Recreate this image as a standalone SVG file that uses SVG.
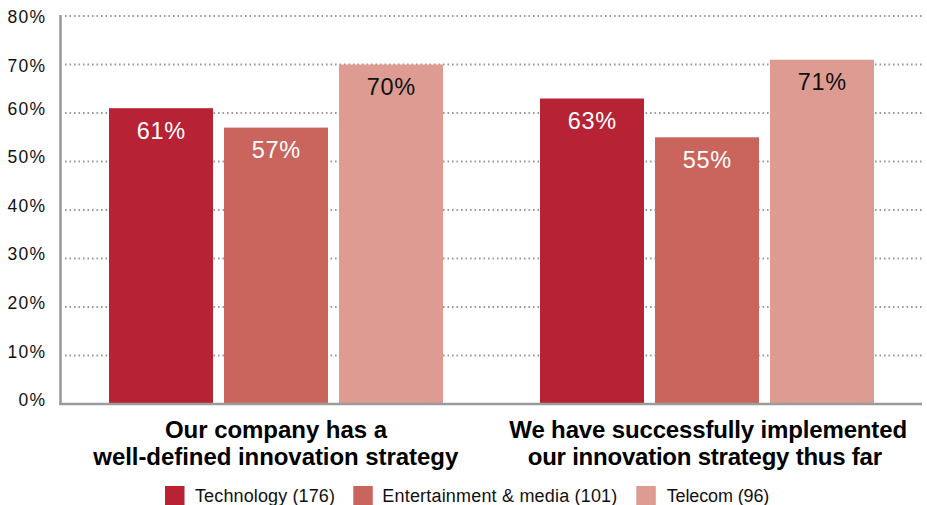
<svg xmlns="http://www.w3.org/2000/svg" width="927" height="505" viewBox="0 0 927 505">
<style>
.grid{stroke:#9a9a9a;stroke-width:2;stroke-dasharray:1.6 2.9;fill:none}
.axis{stroke:#9b9b9b;stroke-width:2.6;fill:none}
.ylab{font-family:"Liberation Sans",Arial,sans-serif;font-size:17.5px;fill:#111;text-anchor:end}
.val{font-family:"Liberation Sans",Arial,sans-serif;font-size:23.5px;text-anchor:middle}
.cat{font-family:"Liberation Sans",Arial,sans-serif;font-size:24px;font-weight:bold;fill:#000;text-anchor:middle}
.leg{font-family:"Liberation Sans",Arial,sans-serif;font-size:18px;fill:#111}
.tech{fill:#B72234}.ent{fill:#C9655D}.tel{fill:#DD9B91}
.w{fill:#fff}.k{fill:#111}
</style>
<rect width="927" height="505" fill="#fff"/>
<g id="gridlines">
<line class="grid" x1="65" y1="16" x2="922" y2="16"/>
<line class="grid" x1="65" y1="64.5" x2="922" y2="64.5"/>
<line class="grid" x1="65" y1="113" x2="922" y2="113"/>
<line class="grid" x1="65" y1="161.5" x2="922" y2="161.5"/>
<line class="grid" x1="65" y1="210" x2="922" y2="210"/>
<line class="grid" x1="65" y1="258.5" x2="922" y2="258.5"/>
<line class="grid" x1="65" y1="307" x2="922" y2="307"/>
<line class="grid" x1="65" y1="355.5" x2="922" y2="355.5"/>
</g>
<g id="y-labels">
<text class="ylab" x="45" y="23" textLength="37.5">80%</text>
<text class="ylab" x="45" y="72" textLength="37.5">70%</text>
<text class="ylab" x="45" y="114.5" textLength="37.5">60%</text>
<text class="ylab" x="45" y="163" textLength="37.5">50%</text>
<text class="ylab" x="45" y="211.5" textLength="37.5">40%</text>
<text class="ylab" x="45" y="260" textLength="37.5">30%</text>
<text class="ylab" x="45" y="309" textLength="37.5">20%</text>
<text class="ylab" x="45" y="357.5" textLength="37.5">10%</text>
<text class="ylab" x="45" y="406" textLength="26.5">0%</text>
</g>
<g id="group1">
<rect class="tech" x="109" y="108.2" width="104" height="295.8"/>
<rect class="ent" x="224" y="127.6" width="104" height="276.4"/>
<rect class="tel" x="339" y="64.5" width="104" height="339.5"/>
<text class="val w" x="161" y="138.8" textLength="48.5">61%</text>
<text class="val w" x="276" y="158" textLength="48.5">57%</text>
<text class="val k" x="391" y="95" textLength="48.5">70%</text>
</g>
<g id="group2">
<rect class="tech" x="540" y="98.5" width="104" height="305.5"/>
<rect class="ent" x="655" y="137.3" width="104" height="266.7"/>
<rect class="tel" x="770" y="59.7" width="104" height="344.3"/>
<text class="val w" x="592" y="129.3" textLength="48.5">63%</text>
<text class="val w" x="707" y="167.8" textLength="48.5">55%</text>
<text class="val k" x="822" y="90" textLength="48.5">71%</text>
</g>
<g id="axes">
<line class="axis" x1="60.5" y1="15" x2="60.5" y2="405"/>
<line class="axis" x1="59.2" y1="404" x2="922" y2="404"/>
</g>
<g id="category-labels">
<text class="cat" x="276" y="438.3" textLength="222">Our company has a</text>
<text class="cat" x="275.8" y="465" textLength="365">well-defined innovation strategy</text>
<text class="cat" x="708.2" y="438.3" textLength="397.7">We have successfully implemented</text>
<text class="cat" x="704.9" y="465" textLength="354.3">our innovation strategy thus far</text>
</g>
<g id="legend">
<rect class="tech" x="165" y="486" width="19.5" height="19.5"/>
<text class="leg" x="195" y="502.3" textLength="140">Technology (176)</text>
<rect class="ent" x="353.3" y="486" width="19.5" height="19.5"/>
<text class="leg" x="382.3" y="502.3" textLength="235">Entertainment &amp; media (101)</text>
<rect class="tel" x="636.3" y="486" width="19.5" height="19.5"/>
<text class="leg" x="666.7" y="502.3" textLength="102.6">Telecom (96)</text>
</g>
</svg>
